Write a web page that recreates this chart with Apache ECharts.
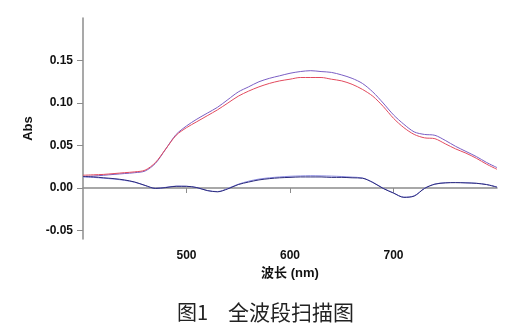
<!DOCTYPE html>
<html><head><meta charset="utf-8">
<script src="https://cdn.jsdelivr.net/npm/echarts@6/dist/echarts.min.js"></script>
<style>html,body{margin:0;padding:0;background:#fff}#c{width:523px;height:331px}</style>
</head><body><div id="c"></div>
<script>
const wavelengths = [400,410,420,430,440,450,460,470,480,490,500,510,520,530,540,550,560,570,580,590,600,610,620,630,640,650,660,670,680,690,700,710,720,730,740,750,760,770,780,790,800];
const upperRed = [0.015,0.0155,0.016,0.017,0.018,0.019,0.021,0.030,0.046,0.062,0.071,0.078,0.085,0.092,0.100,0.108,0.114,0.119,0.123,0.126,0.128,0.130,0.130,0.130,0.128,0.126,0.122,0.116,0.108,0.096,0.082,0.071,0.063,0.059,0.058,0.052,0.046,0.041,0.035,0.028,0.022];
const upperPurple = [0.0135,0.014,0.015,0.016,0.017,0.018,0.020,0.029,0.046,0.063,0.073,0.081,0.088,0.095,0.104,0.113,0.119,0.125,0.129,0.132,0.135,0.137,0.138,0.137,0.136,0.133,0.129,0.123,0.113,0.100,0.086,0.075,0.066,0.063,0.062,0.056,0.049,0.043,0.037,0.030,0.024];
const lowerNavy = [0.0135,0.013,0.012,0.011,0.0095,0.007,0.003,-0.0005,0.0005,0.002,0.002,0.0005,-0.003,-0.0045,-0.001,0.004,0.007,0.0095,0.011,0.012,0.0125,0.013,0.013,0.013,0.0125,0.0125,0.012,0.0115,0.0065,-0.0005,-0.006,-0.011,-0.0095,-0.0005,0.0045,0.006,0.0063,0.006,0.0055,0.004,0.001];
const lowerLight = [0.013,0.0125,0.0115,0.0105,0.009,0.0068,0.003,-0.0005,0.0008,0.0022,0.002,0.0005,-0.003,-0.0042,-0.0005,0.0045,0.008,0.0105,0.012,0.013,0.0138,0.0142,0.0145,0.0143,0.014,0.0135,0.0128,0.0118,0.0068,-0.0003,-0.0058,-0.0108,-0.0092,-0.0003,0.0047,0.0062,0.0065,0.0062,0.0056,0.0041,0.0012];
const xTicks = [500,600,700];
const yTicks = [-0.05,0,0.05,0.10,0.15];
const xTitle = '波长 (nm)';
const yTitle = 'Abs';
const caption1 = '图1';
const caption2 = '全波段扫描图';

function pairs(v){ return wavelengths.map((w,i)=>[w,v[i]]); }
const chart = echarts.init(document.getElementById('c'), null, {renderer:'canvas'});
const axisCol = '#8c8c8c';
const lblFont = {color:'#111', fontWeight:'bold', fontSize:12, fontFamily:'Liberation Sans, Arial, sans-serif'};
function line(name, data, color){
  return {name, type:'line', data:pairs(data), showSymbol:false, smooth:0.3,
    lineStyle:{color, width:1}, itemStyle:{color}, animation:false};
}
chart.setOption({
  animation:false,
  grid:{left:83, top:18, right:26, bottom:92, containLabel:false},
  xAxis:{type:'value', min:400, max:800,
    axisLine:{show:true, lineStyle:{color:axisCol, width:1.5}},
    axisTick:{show:true, length:5, customValues:xTicks, lineStyle:{color:axisCol, width:1}},
    axisLabel:Object.assign({margin:11, customValues:xTicks}, lblFont),
    splitLine:{show:false},
    name:xTitle, nameLocation:'middle', nameGap:25,
    nameTextStyle:{color:'#111', fontSize:13, fontWeight:'bold', fontFamily:'Liberation Sans, Noto Sans CJK SC, sans-serif'}
  },
  yAxis:{type:'value', min:-0.06, max:0.2,
    axisLine:{show:true, lineStyle:{color:axisCol, width:1.5}},
    axisTick:{show:true, length:6, customValues:yTicks, lineStyle:{color:axisCol, width:1}},
    axisLabel:Object.assign({margin:10, customValues:yTicks, formatter:v=>v.toFixed(2)}, lblFont),
    splitLine:{show:false},
    name:yTitle, nameLocation:'middle', nameGap:46, nameRotate:90,
    nameTextStyle:{color:'#111', fontSize:13, fontWeight:'bold', fontFamily:'Liberation Sans, Arial, sans-serif'}
  },
  series:[
    line('upperPurple', upperPurple, '#7a5ec4'),
    line('upperRed', upperRed, '#e24a5e'),
    line('lowerLight', lowerLight, '#8c8ce0'),
    line('lowerNavy', lowerNavy, '#2a2a7c')
  ],
  graphic:[
    {type:'text', left:177, top:302, style:{text:caption1, fontSize:20, fill:'#222', fontFamily:'Noto Sans CJK SC, sans-serif'}},
    {type:'text', left:228, top:302, style:{text:caption2, fontSize:21, fill:'#222', fontFamily:'Noto Sans CJK SC, sans-serif'}}
  ]
});
</script></body></html>
